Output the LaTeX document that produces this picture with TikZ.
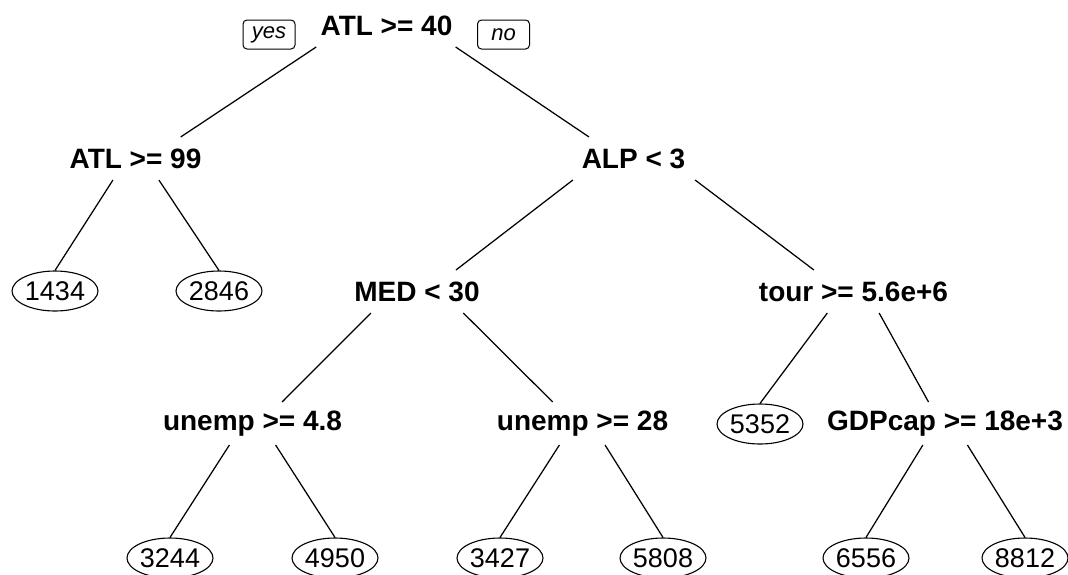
\documentclass[tikz,border=0pt]{standalone}
\usepackage{fontspec}
\setmainfont{Liberation Sans}
\usetikzlibrary{calc,shapes.geometric}
\tikzset{
  splitnode/.style={font=\fontsize{28}{30}\selectfont\bfseries, inner sep=2pt},
  leafnode/.style={ellipse, draw, line width=1.1pt, minimum width=86pt, minimum height=40pt, inner sep=0pt, font=\fontsize{27}{29}\selectfont},
  tagbox/.style={draw, rounded corners=4pt, line width=1pt, minimum width=52pt, minimum height=29pt, inner sep=0pt, font=\fontsize{22}{24}\selectfont\itshape},
  treeline/.style={line width=1.25pt}
}
% branch from split node #1 to split node #2
\newcommand{\tosplit}[2]{\draw[treeline] let \p1=(#1), \p2=(#2) in
  ({\x1+0.28*(\x2-\x1)},{\y1-21pt}) -- ({\x2+0.18*(\x1-\x2)},{\y2+22pt});}
% branch from split node #1 to leaf #2
\newcommand{\toleaf}[2]{\draw[treeline] let \p1=(#1), \p2=(#2.north) in
  ({\x1+0.28*(\x2-\x1)},{\y1-21pt}) -- (#2.north);}
\begin{document}
\begin{tikzpicture}[x=1pt,y=-1pt]
\useasboundingbox (0,0) rectangle (1068,574);
% split nodes
\node[splitnode] (root) at (386.5,26) {ATL >= 40};
\node[tagbox] (yes) at (269,34.5) {yes};
\node[tagbox] (no) at (503.5,34.5) {no};
\node[splitnode] (l1) at (135.5,159) {ATL >= 99};
\node[splitnode] (r1) at (633.5,159) {ALP < 3};
\node[splitnode] (med) at (417,292) {MED < 30};
\node[splitnode] (tour) at (853.5,292) {tour >= 5.6e+6};
\node[splitnode] (u48) at (252.5,424) {unemp >= 4.8};
\node[splitnode] (u28) at (582.5,424) {unemp >= 28};
\node[splitnode] (gdp) at (945,424) {GDPcap >= 18e+3};
% leaves
\node[leafnode] (a) at (55,291) {1434};
\node[leafnode] (b) at (219,291) {2846};
\node[leafnode] (c) at (760,424) {5352};
\node[leafnode] (d) at (170,558) {3244};
\node[leafnode] (e) at (335,558) {4950};
\node[leafnode] (f) at (500,558) {3427};
\node[leafnode] (g) at (663,558) {5808};
\node[leafnode] (h) at (866,558) {6556};
\node[leafnode] (i) at (1025,558) {8812};
% branches
\tosplit{root}{l1}
\tosplit{root}{r1}
\toleaf{l1}{a}
\toleaf{l1}{b}
\tosplit{r1}{med}
\tosplit{r1}{tour}
\tosplit{med}{u48}
\tosplit{med}{u28}
\toleaf{tour}{c}
\tosplit{tour}{gdp}
\toleaf{u48}{d}
\toleaf{u48}{e}
\toleaf{u28}{f}
\toleaf{u28}{g}
\toleaf{gdp}{h}
\toleaf{gdp}{i}
\end{tikzpicture}
\end{document}
